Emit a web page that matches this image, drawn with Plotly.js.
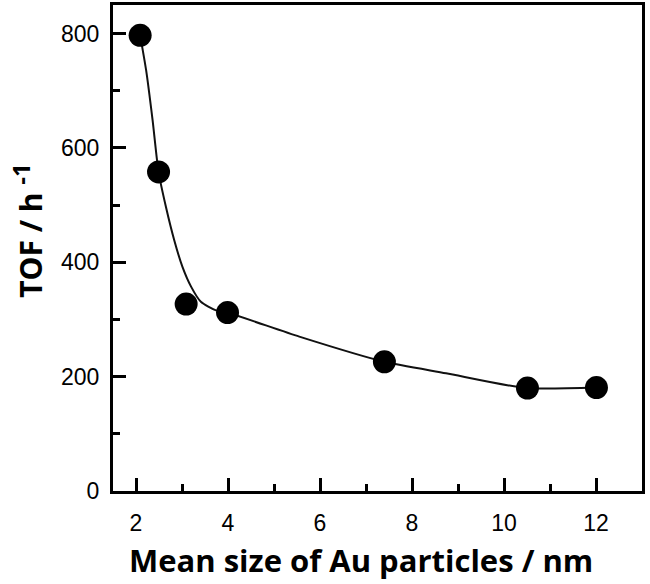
<!DOCTYPE html>
<html>
<head>
<meta charset="utf-8">
<script src="https://cdn.plot.ly/plotly-3.0.1.min.js"></script>
<style>html,body{margin:0;padding:0;background:#fff;}#chart{width:650px;height:584px;}</style>
</head>
<body>
<div id="chart"></div>
<script>
// Measured points
const sizeNm = [2.09, 2.49, 3.09, 3.99, 7.40, 10.51, 12.01];
const tof = [797, 558, 327, 312, 226, 180, 181];

// Fitted curve
const fitX = [2.09, 2.22, 2.36, 2.49, 2.65, 2.83, 3.01, 3.20, 3.41, 3.74, 3.99, 5.55, 7.40, 8.74, 10.48, 12.01];
const fitY = [797, 736, 649, 558, 497, 439, 392, 357, 331, 316, 312, 270, 226, 206, 180, 181];

const xTickVals = [2, 4, 6, 8, 10, 12];
const yTickVals = [0, 200, 400, 600, 800];
const xTitle = 'Mean size of Au particles / nm';
const yTitle = 'TOF / h <sup><span style="font-size:24px">-1</span></sup>';

const traces = [
  {x: fitX, y: fitY, mode: 'lines', line: {color: '#111', width: 2, shape: 'spline', smoothing: 0.6}, hoverinfo: 'skip', showlegend: false},
  {x: sizeNm, y: tof, mode: 'markers', marker: {color: '#000', size: 23}, showlegend: false}
];

const tickFont = {family: 'Liberation Sans, Arial, sans-serif', size: 23, color: '#000'};
const titleFont = {family: 'Open Sans, sans-serif', size: 30, color: '#000', weight: 'bold'};
const xTitleFont = {family: 'Open Sans, sans-serif', size: 31, color: '#000', weight: 'bold'};

const layout = {
  width: 650, height: 584,
  margin: {l: 113, r: 8, t: 5, b: 93},
  paper_bgcolor: '#fff', plot_bgcolor: '#fff',
  xaxis: {
    range: [1.5, 13], tickvals: xTickVals, ticktext: xTickVals.map(String),
    ticks: 'inside', ticklen: 13, tickwidth: 3, tickcolor: '#000',
    minor: {ticks: 'inside', ticklen: 7, tickwidth: 3, tickcolor: '#000', tickvals: [3, 5, 7, 9, 11]},
    showline: true, linewidth: 3, linecolor: '#000', mirror: true,
    showgrid: false, zeroline: false, tickfont: tickFont, ticklabelstandoff: 9
  },
  yaxis: {
    range: [0, 850], tickvals: yTickVals, ticktext: yTickVals.map(String),
    ticks: 'inside', ticklen: 13, tickwidth: 3, tickcolor: '#000',
    minor: {ticks: 'inside', ticklen: 7, tickwidth: 3, tickcolor: '#000', tickvals: [100, 300, 500, 700]},
    showline: true, linewidth: 3, linecolor: '#000', mirror: true,
    showgrid: false, zeroline: false, tickfont: tickFont, ticklabelstandoff: 6
  },
  annotations: [
    {text: xTitle, xref: 'paper', yref: 'paper', x: 0.469, y: -0.142, xanchor: 'center', yanchor: 'middle', showarrow: false, font: xTitleFont},
    {text: yTitle, xref: 'paper', yref: 'paper', x: -0.161, y: 0.537, xanchor: 'center', yanchor: 'middle', textangle: -90, showarrow: false, font: titleFont}
  ],
  showlegend: false
};

Plotly.newPlot('chart', traces, layout, {displayModeBar: false, staticPlot: true});
</script>
</body>
</html>
